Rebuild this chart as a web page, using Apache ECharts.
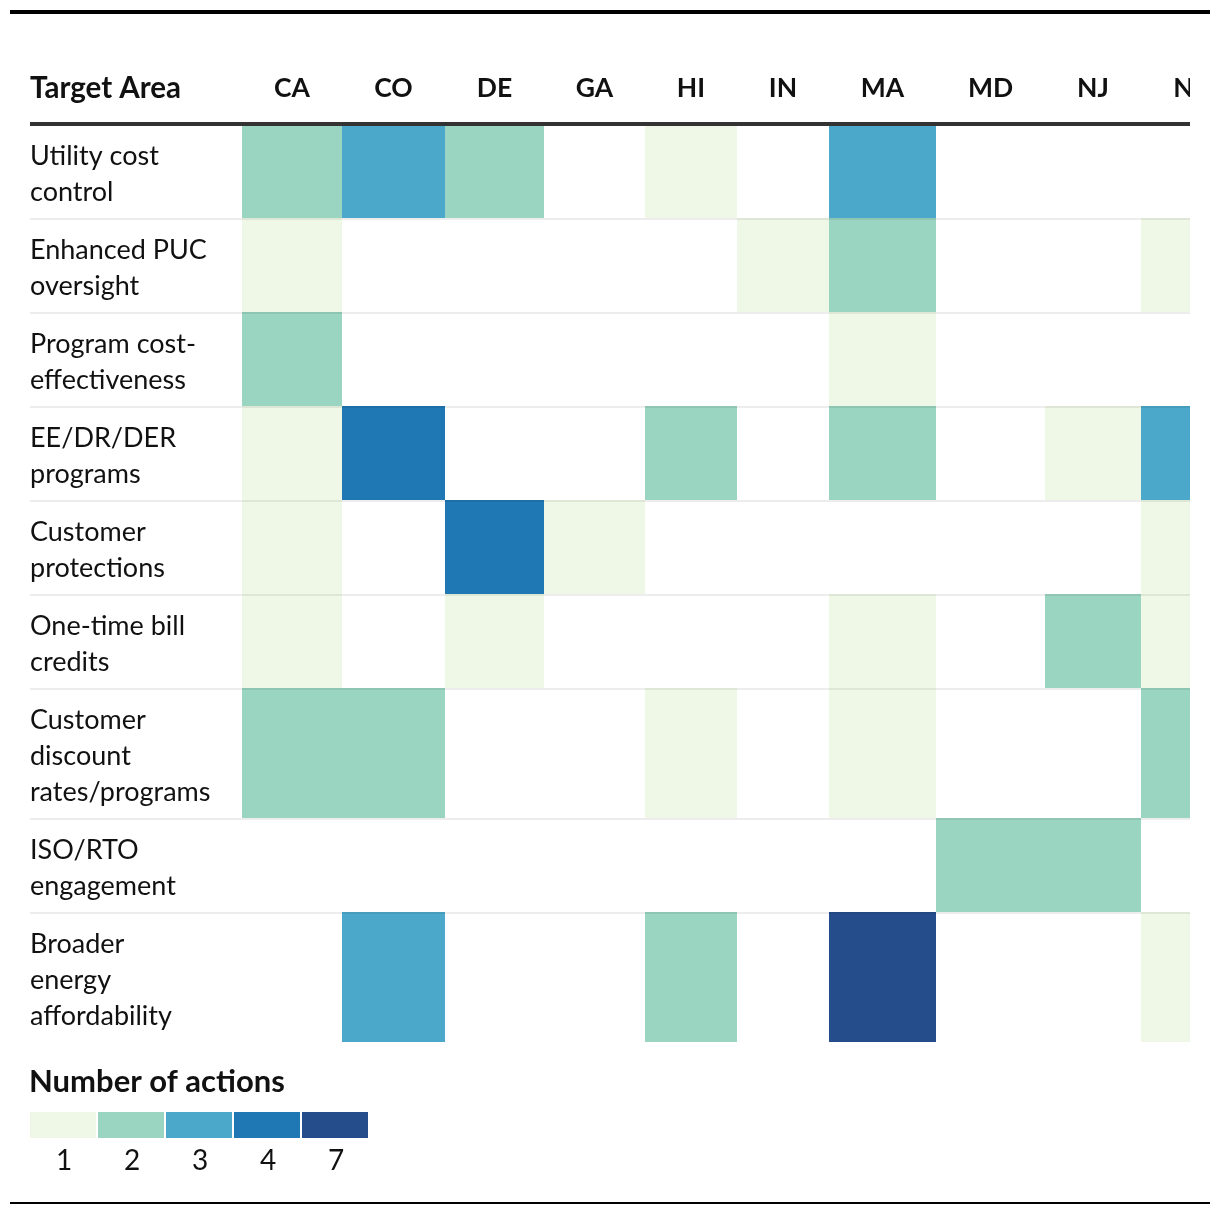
<!DOCTYPE html>
<html>
<head>
<meta charset="utf-8">
<script src="https://cdn.jsdelivr.net/npm/echarts@6/dist/echarts.min.js"></script>
<style>
html,body{margin:0;padding:0;background:#fff;}
#chart{width:1220px;height:1214px;}
</style>
</head>
<body>
<div id="chart"></div>
<script>
// ---------------- DATA ----------------
const states = ['CA', 'CO', 'DE', 'GA', 'HI', 'IN', 'MA', 'MD', 'NJ', 'NY'];
const targetAreas = [
  'Utility cost\ncontrol',
  'Enhanced PUC\noversight',
  'Program cost-\neffectiveness',
  'EE/DR/DER\nprograms',
  'Customer\nprotections',
  'One-time bill\ncredits',
  'Customer\ndiscount\nrates/programs',
  'ISO/RTO\nengagement',
  'Broader\nenergy\naffordability'
];
// number of actions per target area (rows in targetAreas order), 0 = none
const CA = [2, 1, 2, 1, 1, 1, 2, 0, 0];
const CO = [3, 0, 0, 4, 0, 0, 2, 0, 3];
const DE = [2, 0, 0, 0, 4, 1, 0, 0, 0];
const GA = [0, 0, 0, 0, 1, 0, 0, 0, 0];
const HI = [1, 0, 0, 2, 0, 0, 1, 0, 2];
const IN = [0, 1, 0, 0, 0, 0, 0, 0, 0];
const MA = [3, 2, 1, 2, 0, 1, 1, 0, 7];
const MD = [0, 0, 0, 0, 0, 0, 0, 2, 0];
const NJ = [0, 0, 0, 1, 0, 2, 0, 2, 0];
const NY = [0, 1, 0, 3, 1, 1, 2, 0, 1];
const stateValues = [CA, CO, DE, GA, HI, IN, MA, MD, NJ, NY];

const legendLevels = [1, 2, 3, 4, 7];
const legendLabels = ['1', '2', '3', '4', '7'];
const legendTitle = 'Number of actions';
const headerTitle = 'Target Area';

// ---------------- STYLE / LAYOUT ----------------
const levelColors = ['#eff8e7', '#99d5c1', '#4ba8ca', '#1f78b4', '#264d8b'];
const FONT = 'Lato, "Noto Sans", sans-serif';
const FS = 27;
const HEAD_FS = 29.5;      // "Target Area"
const STATE_FS = 26.5;     // state codes
const HEAD_W = 'bold';
const LINE_H = 36;
const ROW_PAD = 11;
const TEXT_SHIFT = 3;
const CELL_PAD = 32;
const TABLE_LEFT = 30;
const LABEL_COL_W = 212;
const TABLE_RIGHT = 1190;
const TABLE_TOP = 124;
const HEAD_Y = 88;
const GRID_LEFT = TABLE_LEFT + LABEL_COL_W;
const GRID_W = TABLE_RIGHT - GRID_LEFT;   // visible part of the table (clipped like the original)

const mctx = document.createElement('canvas').getContext('2d');
mctx.font = HEAD_W + ' ' + STATE_FS + 'px ' + FONT;
const colW = states.map(s => Math.round(mctx.measureText(s).width + 2 * CELL_PAD));
const colStart = [];
let accW = 0;
colW.forEach(w => { colStart.push(accW); accW += w; });
const rowH = targetAreas.map(t => t.split('\n').length * LINE_H + 2 * ROW_PAD);
const rowStart = [];
let accH = 0;
rowH.forEach(h => { rowStart.push(accH); accH += h; });
const totalH = accH;

function colorOf(v) {
  const i = legendLevels.indexOf(v);
  return levelColors[i];
}

const cellData = [];
stateValues.forEach((arr, c) => {
  arr.forEach((v, r) => { if (v > 0) cellData.push([c, r, v]); });
});

const chart = echarts.init(document.getElementById('chart'), null, {renderer: 'canvas'});

const option = {
  backgroundColor: '#fff',
  animation: false,
  title: {
    text: legendTitle,
    left: TABLE_LEFT - 1,
    top: 1066,
    padding: 0,
    textStyle: {fontFamily: FONT, fontSize: 31, fontWeight: 'bold', color: '#111'}
  },
  grid: [
    {left: GRID_LEFT, top: TABLE_TOP, width: GRID_W, height: totalH},
    {left: TABLE_LEFT, top: 1112, width: legendLevels.length * 68, height: 26}
  ],
  xAxis: [
    {gridIndex: 0, type: 'value', min: 0, max: GRID_W, show: false},
    {gridIndex: 1, type: 'category', data: legendLabels,
     axisLine: {show: false}, axisTick: {show: false},
     axisLabel: {fontFamily: FONT, fontSize: 28, color: '#111', margin: 9}}
  ],
  yAxis: [
    {gridIndex: 0, type: 'value', min: 0, max: totalH, inverse: true, show: false},
    {gridIndex: 1, type: 'value', min: 0, max: 1, show: false}
  ],
  graphic: [
    {type: 'rect', z: 100, shape: {x: 10, y: 10, width: 1200, height: 4}, style: {fill: '#000'}},
    {type: 'rect', z: 100, shape: {x: 10, y: 1202, width: 1200, height: 2}, style: {fill: '#000'}},
    {type: 'rect', z: 90, shape: {x: TABLE_RIGHT, y: 40, width: 1220 - TABLE_RIGHT, height: 1020}, style: {fill: '#fff'}},
    {type: 'rect', z: 95, shape: {x: TABLE_LEFT, y: TABLE_TOP - 2, width: TABLE_RIGHT - TABLE_LEFT, height: 4}, style: {fill: '#333'}},
    {type: 'text', z: 95, x: TABLE_LEFT, y: HEAD_Y,
     style: {text: headerTitle, fontFamily: FONT, fontSize: HEAD_FS, fontWeight: HEAD_W, fill: '#111', verticalAlign: 'middle', align: 'left'}}
  ],
  series: [
    {
      type: 'custom', name: 'cells', xAxisIndex: 0, yAxisIndex: 0, z: 2, clip: false,
      data: cellData,
      renderItem: function (params, api) {
        const c = api.value(0), r = api.value(1), v = api.value(2);
        const p0 = api.coord([colStart[c], rowStart[r]]).map(Math.round);
        const p1 = api.coord([colStart[c] + colW[c], rowStart[r] + rowH[r]]).map(Math.round);
        return {type: 'rect', shape: {x: p0[0], y: p0[1], width: p1[0] - p0[0], height: p1[1] - p0[1]},
                style: {fill: colorOf(v)}};
      }
    },
    {
      type: 'custom', name: 'rows', xAxisIndex: 0, yAxisIndex: 0, z: 3,
      data: targetAreas.map((t, r) => [0, r]),
      renderItem: function (params, api) {
        const r = api.value(1);
        const p = api.coord([0, rowStart[r]]).map(Math.round);
        const x = p[0] - LABEL_COL_W;
        const children = [{
          type: 'text', x: x, y: p[1] + ROW_PAD + TEXT_SHIFT,
          style: {text: targetAreas[r], fontFamily: FONT, fontSize: FS, lineHeight: LINE_H,
                  fill: '#111', align: 'left', verticalAlign: 'top'}
        }];
        if (r > 0) {
          children.push({type: 'rect', shape: {x: x, y: p[1], width: TABLE_RIGHT - x, height: 2},
                         style: {fill: 'rgba(0,0,0,0.07)'}});
        }
        return {type: 'group', children: children};
      }
    },
    {
      type: 'custom', name: 'headers', xAxisIndex: 0, yAxisIndex: 0, z: 3,
      data: states.map((s, c) => [c, 0]),
      renderItem: function (params, api) {
        const c = api.value(0);
        const p = api.coord([colStart[c] + colW[c] / 2, 0]);
        return {type: 'text', x: p[0], y: HEAD_Y,
                style: {text: states[c], fontFamily: FONT, fontSize: STATE_FS, fontWeight: HEAD_W,
                        fill: '#111', align: 'center', verticalAlign: 'middle'}};
      }
    },
    {
      type: 'custom', name: 'legend', xAxisIndex: 1, yAxisIndex: 1,
      data: legendLevels.map((v, i) => [i, 1, v]),
      renderItem: function (params, api) {
        const band = api.size([1, 0])[0];
        const h = api.size([0, 1])[1];
        const p = api.coord([api.value(0), 1]);
        return {type: 'rect', shape: {x: p[0] - band / 2, y: p[1], width: band - 2, height: h},
                style: {fill: colorOf(api.value(2))}};
      }
    }
  ]
};
chart.setOption(option);
</script>
</body>
</html>
